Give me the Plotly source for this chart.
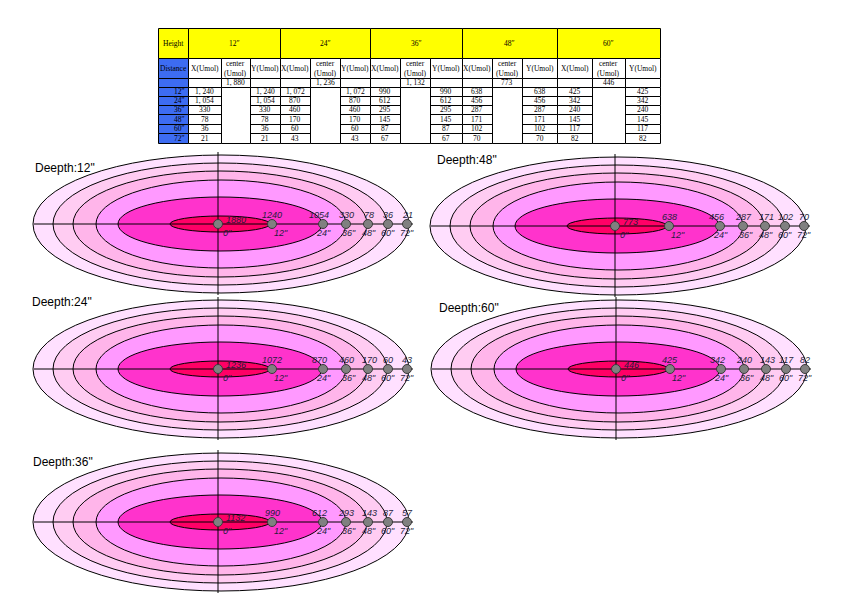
import plotly.graph_objects as go

# The page body adds an 8px margin; the figure is sized to fit the 846x612 window exactly.
OFF = 8
W, H = 846 - 2 * OFF, 612 - 2 * OFF

# ---------------- data ----------------
heights = ['12"', '24"', '36"', '48"', '60"']
distances = ['12"', '24"', '36"', '48"', '60"', '72"']
point_labels = ['0"', '12"', '24"', '36"', '48"', '60"', '72"']

table_center = [1880, 1236, 1132, 773, 446]
table_x12 = [1240, 1054, 330, 78, 36, 21]
table_x24 = [1072, 870, 460, 170, 60, 43]
table_x36 = [990, 612, 295, 145, 87, 67]
table_x48 = [638, 456, 287, 171, 102, 70]
table_x60 = [425, 342, 240, 145, 117, 82]
table_cols = [table_x12, table_x24, table_x36, table_x48, table_x60]

chart_12 = [1880, 1240, 1054, 330, 78, 36, 21]
chart_24 = [1236, 1072, 870, 460, 170, 60, 43]
chart_36 = [1132, 990, 612, 293, 143, 87, 57]
chart_48 = [773, 638, 456, 287, 171, 102, 70]
chart_60 = [446, 425, 342, 240, 143, 117, 82]

# ---------------- layout / style ----------------
RING_X = [0, 54, 105, 128, 150, 170, 189]            # display radius of each distance
RX = [188, 167, 147, 125, 102, 50]                    # ellipse semi-axes (outer -> inner)
RY = [69, 61, 53, 44, 27, 8]
RC = [3, 2, 2, 3, 2, 2]                                # small centre offsets
RING_COLORS = ["#FFE0FF", "#FFCCF2", "#FFB5EA", "#FF99FF", "#FF33CC", "#FF0066"]
VAL_SHIFT = [0, 0, -4, 0, 1, 0, 0]
DIST_SHIFT = [4, 9, 0, 3, 1, 0, 0]

# (name, values, centre x, centre y, title x, title y) in window pixels
charts = [
    ('12"', chart_12, 218, 224, 33, 168),
    ('48"', chart_48, 615, 226, 435, 160),
    ('24"', chart_24, 218, 369, 30, 302),
    ('60"', chart_60, 616, 369, 437, 308),
    ('36"', chart_36, 218, 522, 31, 462),
]

fig = go.Figure()
shapes = []
annotations = []
layout_axes = {}

LABEL_FONT = dict(family="Liberation Sans", size=9, color="#1e1e3c")

for i, (name, vals, cxw, cyw, tx, ty) in enumerate(charts):
    cx, cy = cxw - OFF, cyw - OFF
    n = i + 1
    xa = "x" if n == 1 else f"x{n}"
    ya = "y" if n == 1 else f"y{n}"
    xk = "xaxis" if n == 1 else f"xaxis{n}"
    yk = "yaxis" if n == 1 else f"yaxis{n}"
    layout_axes[xk] = dict(domain=[(cx - 205) / W, (cx + 205) / W], range=[-205, 205],
                           visible=False, fixedrange=True, anchor=ya)
    layout_axes[yk] = dict(domain=[1 - (cy + 76) / H, 1 - (cy - 76) / H], range=[-76, 76],
                           visible=False, fixedrange=True, anchor=xa)
    for rx, ry, rc, col in zip(RX, RY, RC, RING_COLORS):
        shapes.append(dict(type="circle", xref=xa, yref=ya, x0=rc - rx, x1=rc + rx,
                           y0=-ry, y1=ry, fillcolor=col, line=dict(color="black", width=1),
                           layer="below"))
    shapes.append(dict(type="line", xref=xa, yref=ya, x0=-184, x1=195, y0=0, y1=0,
                       line=dict(color="black", width=1), layer="below"))
    shapes.append(dict(type="line", xref=xa, yref=ya, x0=0, x1=0, y0=-71, y1=72,
                       line=dict(color="black", width=1), layer="below"))
    fig.add_trace(go.Scatter(x=RING_X, y=[0] * len(RING_X), mode="markers", xaxis=xa, yaxis=ya,
                             marker=dict(size=9, color="#808080", line=dict(color="#3a3a3a", width=1)),
                             hoverinfo="skip", showlegend=False, cliponaxis=False))
    for j, (px, v, lab) in enumerate(zip(RING_X, vals, point_labels)):
        if j == 0:
            annotations.append(dict(x=px, y=0, xref=xa, yref=ya, text=f"<i>{v}</i>", showarrow=False,
                                    xanchor="left", yanchor="middle", xshift=6, yshift=4, font=LABEL_FONT))
            annotations.append(dict(x=px, y=0, xref=xa, yref=ya, text=f"<i>{lab}</i>", showarrow=False,
                                    xanchor="left", yanchor="middle", xshift=3, yshift=-9, font=LABEL_FONT))
        else:
            annotations.append(dict(x=px, y=0, xref=xa, yref=ya, text=f"<i>{v}</i>", showarrow=False,
                                    xanchor="center", yanchor="middle", xshift=VAL_SHIFT[j], yshift=9,
                                    font=LABEL_FONT))
            annotations.append(dict(x=px, y=0, xref=xa, yref=ya, text=f"<i>{lab}</i>", showarrow=False,
                                    xanchor="center", yanchor="middle", xshift=DIST_SHIFT[j], yshift=-9,
                                    font=LABEL_FONT))

# full-figure axis in window pixel coordinates, for the table and titles
layout_axes["xaxis6"] = dict(domain=[0, 1], range=[OFF, OFF + W], visible=False, fixedrange=True, anchor="y6")
layout_axes["yaxis6"] = dict(domain=[0, 1], range=[OFF + H, OFF], visible=False, fixedrange=True, anchor="x6")
fig.add_trace(go.Scatter(x=[OFF + 1], y=[OFF + 1], xaxis="x6", yaxis="y6", mode="markers",
                         marker=dict(opacity=0), hoverinfo="skip", showlegend=False))

for name, vals, cx, cy, tx, ty in charts:
    annotations.append(dict(x=tx, y=ty, xref="x6", yref="y6", text=f'Deepth:{name}', showarrow=False,
                            xanchor="left", yanchor="middle",
                            font=dict(family="Liberation Sans", size=12, color="black")))

# ---------------- table ----------------
COL_X = [158, 188, 221, 250, 280, 310, 340, 370, 400, 430, 462, 492, 522, 557, 592, 625, 660]
ROW_Y = [28, 58, 78, 87, 96, 105, 114, 124, 133, 143]
YELLOW = "#FFFF00"
BLUE = "#3D6CF2"
TFONT = dict(family="Liberation Serif", size=7.5, color="black")


def cell(x0, x1, y0, y1, fill, text=None, align="center"):
    shapes.append(dict(type="rect", xref="x6", yref="y6", x0=x0 + 0.5, x1=x1 + 0.5, y0=y0 + 0.5,
                       y1=y1 + 0.5, fillcolor=fill, line=dict(color="black", width=1), layer="below"))
    if text is not None:
        if align == "right":
            ax, anc = x1 - 1, "right"
        else:
            ax, anc = (x0 + x1) / 2, "center"
        annotations.append(dict(x=ax, y=(y0 + y1) / 2, xref="x6", yref="y6", text=text,
                                showarrow=False, xanchor=anc, yanchor="middle", font=TFONT))


def fmt(v):
    return f"{v:,}".replace(",", ", ")


# header row
cell(COL_X[0], COL_X[1], ROW_Y[0], ROW_Y[1], YELLOW, "Height")
for g, h in enumerate(heights):
    c0 = 1 + 3 * g
    cell(COL_X[c0], COL_X[c0 + 3], ROW_Y[0], ROW_Y[1], YELLOW, h.replace('"', "″"))
# sub header row
cell(COL_X[0], COL_X[1], ROW_Y[1], ROW_Y[2], BLUE, "Distance")
for g in range(len(heights)):
    c0 = 1 + 3 * g
    cell(COL_X[c0], COL_X[c0 + 1], ROW_Y[1], ROW_Y[2], "white", "X(Umol)")
    cell(COL_X[c0 + 1], COL_X[c0 + 2], ROW_Y[1], ROW_Y[2], "white", "center<br>(Umol)")
    cell(COL_X[c0 + 2], COL_X[c0 + 3], ROW_Y[1], ROW_Y[2], "white", "Y(Umol)")
# centre value row
cell(COL_X[0], COL_X[1], ROW_Y[2], ROW_Y[3], BLUE, "")
for g, cv in enumerate(table_center):
    c0 = 1 + 3 * g
    cell(COL_X[c0], COL_X[c0 + 1], ROW_Y[2], ROW_Y[3], "white", "")
    cell(COL_X[c0 + 1], COL_X[c0 + 2], ROW_Y[2], ROW_Y[3], "white", fmt(cv))
    cell(COL_X[c0 + 2], COL_X[c0 + 3], ROW_Y[2], ROW_Y[3], "white", "")
# distance rows
for r, d in enumerate(distances):
    y0, y1 = ROW_Y[3 + r], ROW_Y[4 + r]
    cell(COL_X[0], COL_X[1], y0, y1, BLUE, d.replace('"', "″"), align="right")
    for g, colvals in enumerate(table_cols):
        c0 = 1 + 3 * g
        cell(COL_X[c0], COL_X[c0 + 1], y0, y1, "white", fmt(colvals[r]))
        cell(COL_X[c0 + 2], COL_X[c0 + 3], y0, y1, "white", fmt(colvals[r]))
for g in range(len(heights)):
    c0 = 1 + 3 * g
    cell(COL_X[c0 + 1], COL_X[c0 + 2], ROW_Y[3], ROW_Y[-1], "white")

fig.update_layout(
    width=W, height=H, margin=dict(l=0, r=0, t=0, b=0),
    paper_bgcolor="white", plot_bgcolor="rgba(0,0,0,0)",
    shapes=shapes, annotations=annotations, showlegend=False,
    **layout_axes,
)

fig.write_html("out.html", config={"displayModeBar": False})
